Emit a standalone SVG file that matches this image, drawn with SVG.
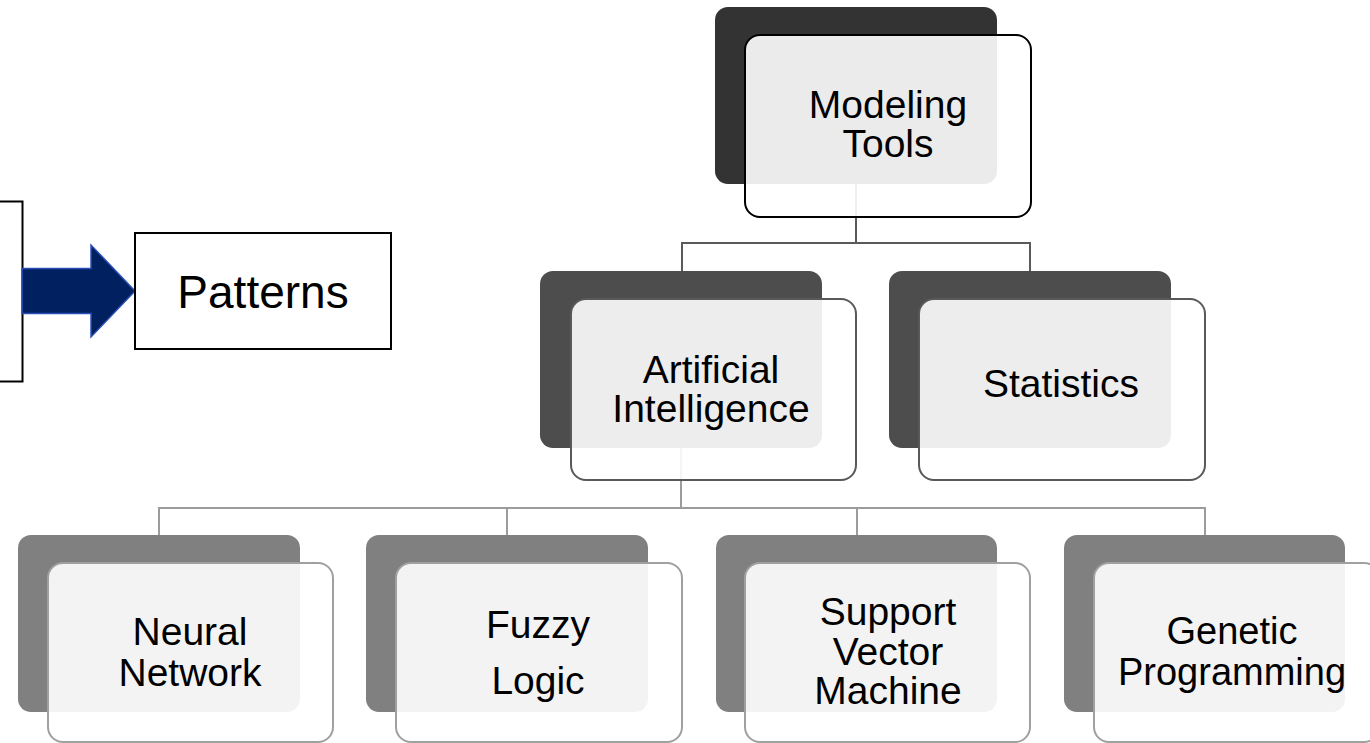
<svg xmlns="http://www.w3.org/2000/svg" width="1370" height="743" viewBox="0 0 1370 743">
  <style>
    .lbl { font-family: "Liberation Sans", Arial, sans-serif; font-size: 39px; fill: #000; text-anchor: middle; }
    .big { font-size: 46px; }
    .tight { font-size: 38px; }
    .back1 { fill: #333333; }
    .back2 { fill: #4d4d4d; }
    .back3 { fill: #808080; }
    .front { fill: #ffffff; fill-opacity: 0.9; stroke-width: 2; }
    .f1 { stroke: #000000; }
    .f2 { stroke: #595959; }
    .f3 { stroke: #a0a0a0; }
    .link1 { fill: none; stroke: #5a5a5a; stroke-width: 2; }
    .link2 { fill: none; stroke: #9c9c9c; stroke-width: 2; }
  </style>

  <rect width="1370" height="743" fill="#ffffff"/>

  <!-- source box cut by the left edge, arrow and result box -->
  <g id="source">
    <rect x="-10" y="201.5" width="32.5" height="180" fill="#ffffff" stroke="#000000" stroke-width="2"/>
  </g>
  <g id="flow-arrow">
    <polygon points="22,268.5 91,268.5 91,245 135,291 91,337 91,313.5 22,313.5" fill="#002060" stroke="#2a4fb8" stroke-width="1.5"/>
  </g>
  <g id="patterns">
    <rect x="135" y="233" width="256" height="116" fill="#ffffff" stroke="#000000" stroke-width="2"/>
    <text class="lbl big" x="263" y="308">Patterns</text>
  </g>

  <!-- hierarchy connectors -->
  <g id="connectors">
    <path class="link1" d="M856,184 V243 M682,271 V243 H1030 V271"/>
    <path class="link2" d="M681,448 V508 M159,535 V508 H1205 V535 M507,508 V535 M857,508 V535"/>
  </g>

  <!-- level 1 -->
  <g id="modeling-tools">
    <rect class="back1" x="715" y="7" width="282" height="177" rx="13"/>
    <rect class="front f1" x="745" y="35" width="286" height="182" rx="15"/>
    <text class="lbl" x="888" y="118">Modeling</text>
    <text class="lbl" x="888" y="157">Tools</text>
  </g>

  <!-- level 2 -->
  <g id="artificial-intelligence">
    <rect class="back2" x="540" y="271" width="282" height="177" rx="13"/>
    <rect class="front f2" x="571" y="299" width="285" height="181" rx="15"/>
    <text class="lbl" x="711" y="383">Artificial</text>
    <text class="lbl" x="711" y="422">Intelligence</text>
  </g>
  <g id="statistics">
    <rect class="back2" x="889" y="271" width="282" height="177" rx="13"/>
    <rect class="front f2" x="919" y="299" width="286" height="181" rx="15"/>
    <text class="lbl" x="1061" y="397">Statistics</text>
  </g>

  <!-- level 3 -->
  <g id="neural-network">
    <rect class="back3" x="18" y="535" width="282" height="177" rx="13"/>
    <rect class="front f3" x="48" y="563" width="285" height="179" rx="15"/>
    <text class="lbl" x="190" y="645">Neural</text>
    <text class="lbl" x="190" y="686">Network</text>
  </g>
  <g id="fuzzy-logic">
    <rect class="back3" x="366" y="535" width="282" height="177" rx="13"/>
    <rect class="front f3" x="396" y="563" width="286" height="179" rx="15"/>
    <text class="lbl" x="538" y="638">Fuzzy</text>
    <text class="lbl" x="538" y="694">Logic</text>
  </g>
  <g id="support-vector-machine">
    <rect class="back3" x="716" y="535" width="281" height="177" rx="13"/>
    <rect class="front f3" x="745" y="563" width="285" height="179" rx="15"/>
    <text class="lbl" x="888" y="625">Support</text>
    <text class="lbl" x="888" y="665">Vector</text>
    <text class="lbl" x="888" y="704">Machine</text>
  </g>
  <g id="genetic-programming">
    <rect class="back3" x="1064" y="535" width="281" height="177" rx="13"/>
    <rect class="front f3" x="1094" y="563" width="285" height="179" rx="15"/>
    <text class="lbl tight" x="1232" y="644">Genetic</text>
    <text class="lbl tight" x="1232" y="685">Programming</text>
  </g>
</svg>
